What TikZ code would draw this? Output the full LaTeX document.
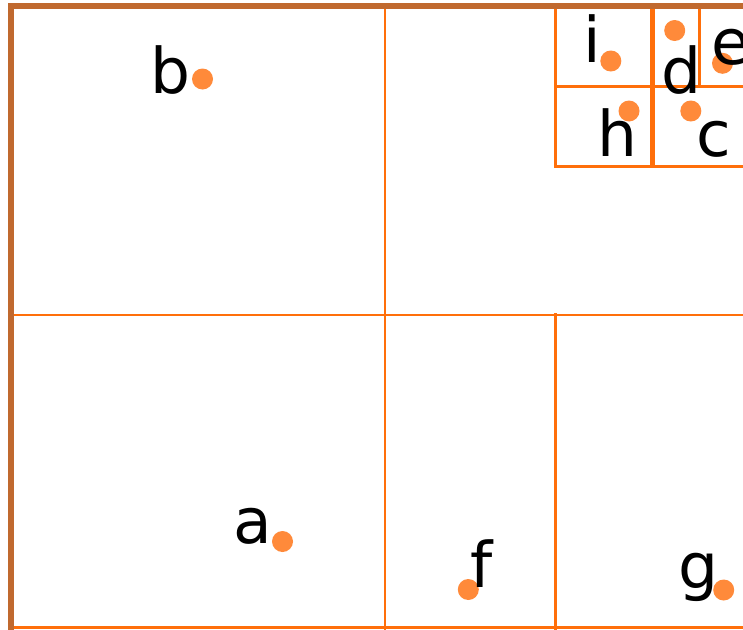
\documentclass[tikz,border=0pt]{standalone}
\usepackage{fontspec}
\setmainfont{DejaVu Sans}
\definecolor{borderbrown}{HTML}{C0692F}
\definecolor{lineorange}{HTML}{FF6F0A}
\definecolor{dotorange}{HTML}{FF8A3A}
\tikzset{
  cell/.style={draw=lineorange, line width=2.9pt},
  thickcell/.style={draw=lineorange, line width=5pt},
  frame/.style={draw=borderbrown, line width=5.2pt, line cap=rect},
  dot/.style={circle, fill=dotorange, inner sep=0pt, minimum size=21pt},
  lbl/.style={anchor=base, inner sep=0pt, text=black, font=\fontsize{63}{63}\selectfont}
}
\begin{document}
\begin{tikzpicture}[x=1pt,y=-1pt]
\useasboundingbox (0,0) rectangle (743,629);
\clip (0,0) rectangle (743,629);
\fill[white] (0,0) rectangle (743,629);
% grid lines
\draw[cell] (11,315) -- (760,315);
\draw[cell] (385,6) -- (385,640);
\draw[cell] (555.5,313) -- (555.5,640);
\draw[cell] (555.5,6) -- (555.5,166.5);
\draw[cell] (554.2,166.5) -- (760,166.5);
\draw[cell] (555.5,86.5) -- (760,86.5);
\draw[cell] (699.5,6) -- (699.5,86.5);
\draw[cell] (11,627.5) -- (760,627.5);
\draw[thickcell] (652,6) -- (652,167.5);
% outer frame
\draw[frame] (11,640) -- (11,6) -- (760,6);
% points
\node[dot] (pa) at (282.5,541.5) {};
\node[dot] (pb) at (202.5,79) {};
\node[dot] (pc) at (690.8,111) {};
\node[dot] (pd) at (674.7,30.5) {};
\node[dot] (pe) at (722.5,63.3) {};
\node[dot] (pf) at (468.3,589.5) {};
\node[dot] (pg) at (723.7,590) {};
\node[dot] (ph) at (629,111) {};
\node[dot] (pi) at (610.8,61) {};
% labels
\node[lbl] (la) at (252.5,543) {a};
\node[lbl] (lb) at (170,93.5) {b};
\node[lbl] (lc) at (714,156.7) {c};
\node[lbl] (ld) at (681,93.5) {d};
\node[lbl] (le) at (731,64) {e};
\node[lbl] (lf) at (481.5,587) {f};
\node[lbl] (lg) at (698,588) {g};
\node[lbl] (lh) at (617.5,156.7) {h};
\node[lbl] (li) at (592.5,62) {i};
\end{tikzpicture}
\end{document}
